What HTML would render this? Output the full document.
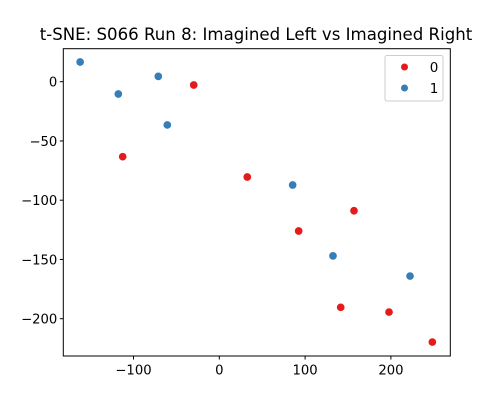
<!DOCTYPE html>
<html><head><meta charset="utf-8"><style>
html,body{margin:0;padding:0;background:#fff;}
svg{display:block;font-family:"DejaVu Sans","Liberation Sans",sans-serif;}
</style></head><body>
<svg id="chart" width="500" height="400" viewBox="0 0 500 400">
<rect width="500" height="400" fill="#fff"/>
<text x="256" y="40" text-anchor="middle" font-size="16.6" fill="#000">t-SNE: S066 Run 8: Imagined Left vs Imagined Right</text>
<g id="xticks"></g>
<g id="yticks"></g>
<g id="points"></g>
<rect x="63.3" y="48.7" width="387" height="307.3" fill="none" stroke="#000" stroke-width="1"/>
<g>
<rect x="385" y="55.5" width="58" height="45.5" rx="2" fill="#fff" fill-opacity="0.8" stroke="#ccc"/>
<circle cx="404.5" cy="67" r="3.5" fill="#e41a1c"/>
<text x="434" y="72" text-anchor="middle" font-size="13.5">0</text>
<circle cx="404.5" cy="88" r="3.5" fill="#377eb8"/>
<text x="434" y="93" text-anchor="middle" font-size="13.5">1</text>
</g>
</svg>
<script>
const xTickValues = [-100, 0, 100, 200];
const yTickValues = [0, -50, -100, -150, -200];
const class0X = [-29.8, -112.6, 32.6, 157, 92.5, 141.5, 197.8, 248.3];
const class0Y = [-2.8, -63.3, -80.4, -108.9, -126, -190.4, -194.4, -219.7];
const class1X = [-162.2, -117.7, -71.1, -60.6, 85.5, 132.5, 222.3];
const class1Y = [16.6, -10.4, 4.5, -36.5, -87.2, -147, -164];

const NS = "http://www.w3.org/2000/svg";
const L = 63.3, R = 450.3, T = 48.7, B = 356;
function xs(v){ return 219.3 + v * 0.858; }
function ys(v){ return 81.7 - v * 1.185; }
function mk(tag, attrs, parent){ const e = document.createElementNS(NS, tag); for (const k in attrs) e.setAttribute(k, attrs[k]); parent.appendChild(e); return e; }

const xg = document.getElementById('xticks');
xTickValues.forEach(v => {
  const x = xs(v);
  const l = mk('line', {x1:x, x2:x, y1:B, y2:B+3.5, stroke:'#000'}, xg);
  
  
  const t = mk('text', {x:x, y:B+18.5, 'text-anchor':'middle', 'font-size':'13.2'}, xg);
  t.textContent = v < 0 ? '\u2212' + Math.abs(v) : String(v);
  
  
});
const yg = document.getElementById('yticks');
yTickValues.forEach(v => {
  const y = ys(v);
  const l = mk('line', {x1:L-3.5, x2:L, y1:y, y2:y, stroke:'#000'}, yg);
  
  
  const t = mk('text', {x:L-6, y:y+4.8, 'text-anchor':'end', 'font-size':'13.2'}, yg);
  t.textContent = v < 0 ? '\u2212' + Math.abs(v) : String(v);
  
  
});
const pg = document.getElementById('points');
class0X.forEach((v, i) => {
  const c = mk('circle', {cx:xs(v), cy:ys(class0Y[i]), r:4.2, fill:'#e41a1c', stroke:'#fff', 'stroke-width':0.7}, pg);
  
  
});
class1X.forEach((v, i) => {
  const c = mk('circle', {cx:xs(v), cy:ys(class1Y[i]), r:4.2, fill:'#377eb8', stroke:'#fff', 'stroke-width':0.7}, pg);
  
  
});
</script>
</body></html>
